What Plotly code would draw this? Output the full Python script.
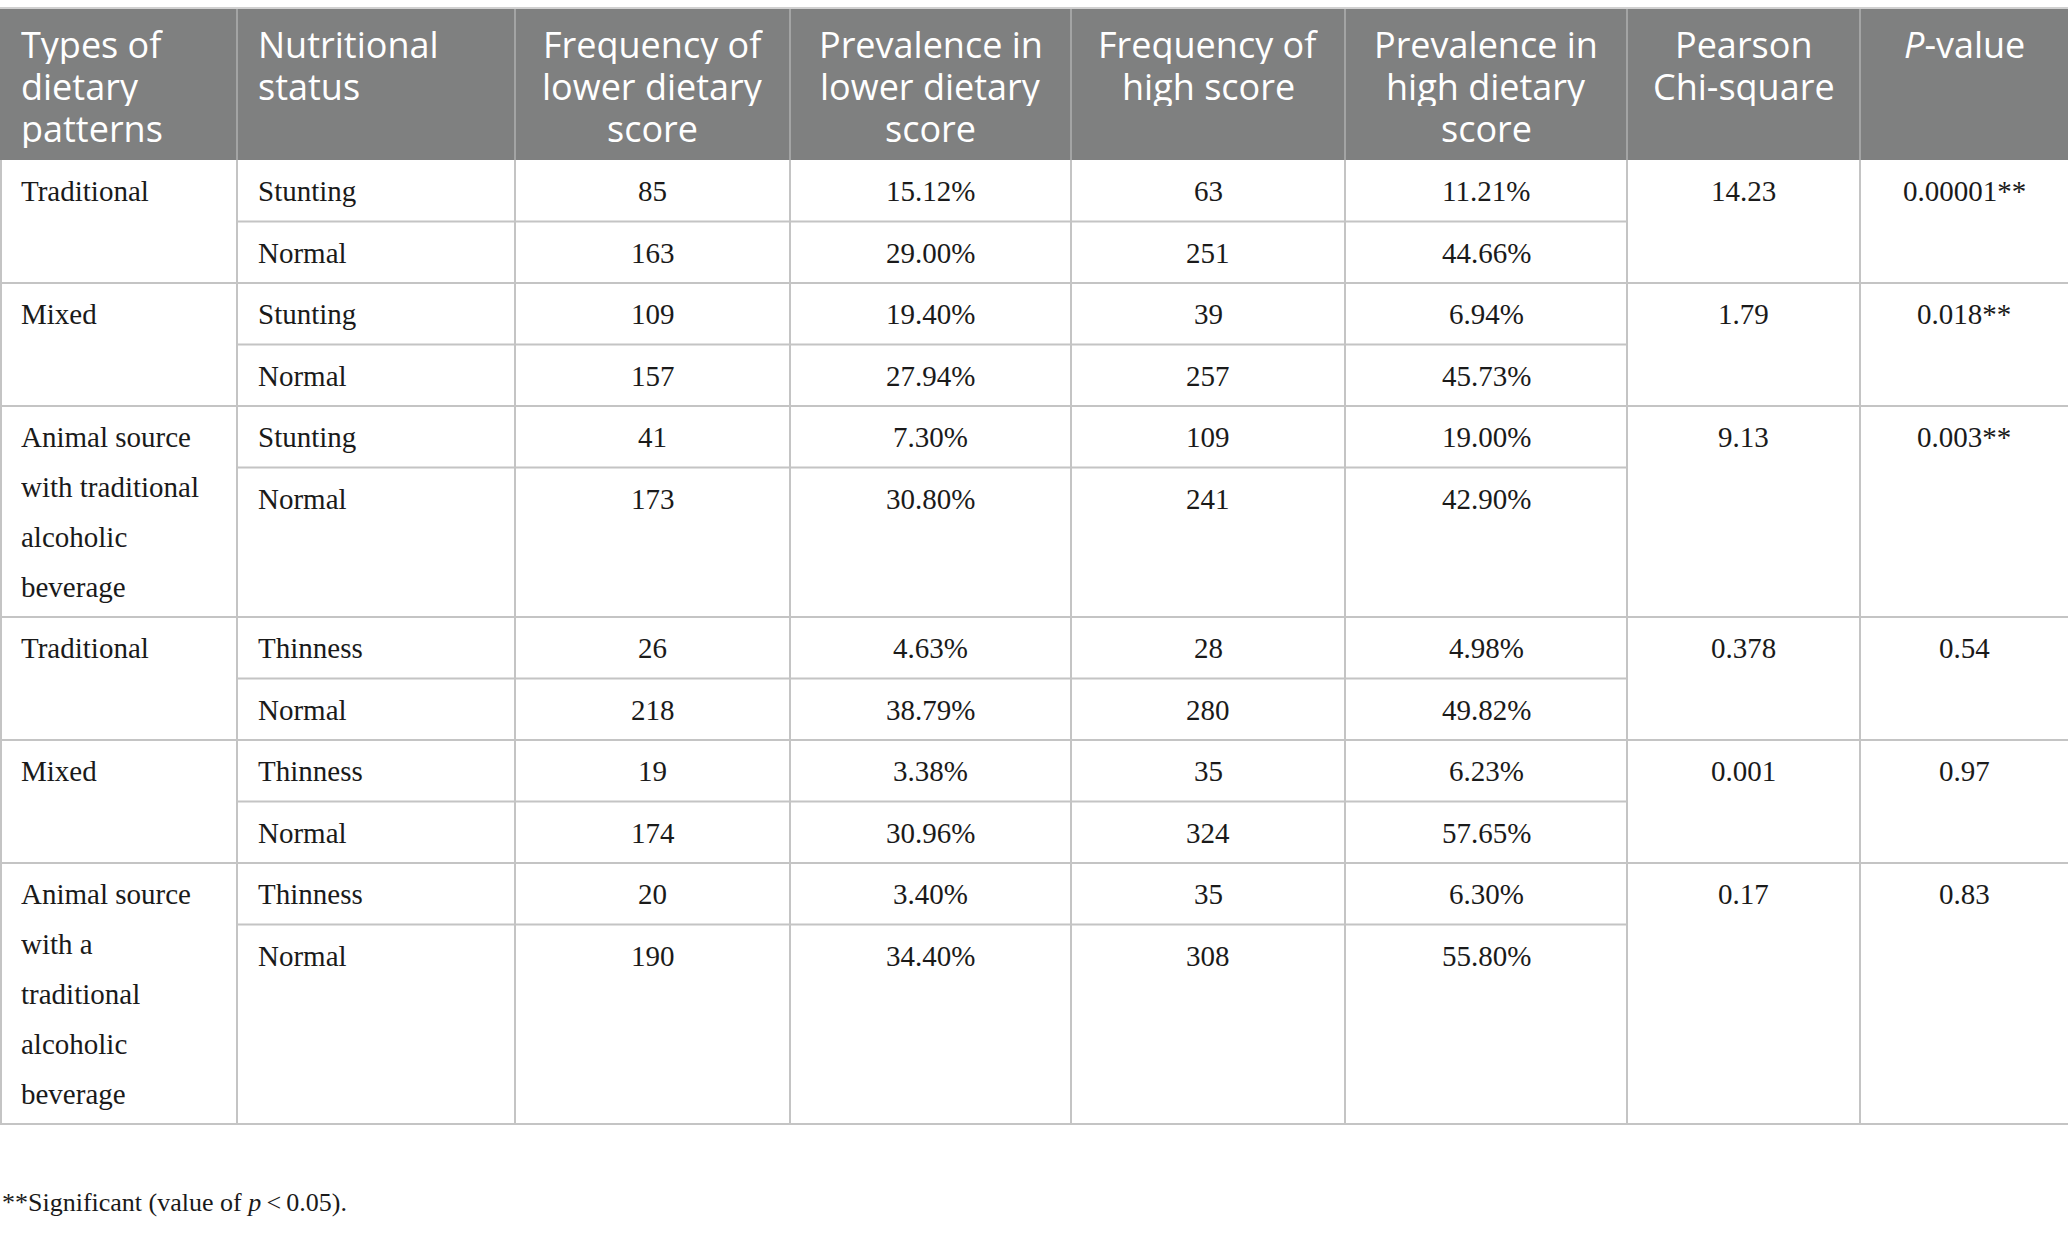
import plotly.graph_objects as go

# table contents
patterns = [
    ["Traditional"],
    ["Mixed"],
    ["Animal source", "with traditional", "alcoholic", "beverage"],
    ["Traditional"],
    ["Mixed"],
    ["Animal source", "with a", "traditional", "alcoholic", "beverage"],
]
status = [["Stunting", "Normal"]] * 3 + [["Thinness", "Normal"]] * 3
freq_low = [85, 163, 109, 157, 41, 173, 26, 218, 19, 174, 20, 190]
prev_low = ["15.12%", "29.00%", "19.40%", "27.94%", "7.30%", "30.80%",
            "4.63%", "38.79%", "3.38%", "30.96%", "3.40%", "34.40%"]
freq_high = [63, 251, 39, 257, 109, 241, 28, 280, 35, 324, 35, 308]
prev_high = ["11.21%", "44.66%", "6.94%", "45.73%", "19.00%", "42.90%",
             "4.98%", "49.82%", "6.23%", "57.65%", "6.30%", "55.80%"]
chi_square = ["14.23", "1.79", "9.13", "0.378", "0.001", "0.17"]
p_values = ["0.00001**", "0.018**", "0.003**", "0.54", "0.97", "0.83"]

headers = [
    ["Types of", "dietary", "patterns"],
    ["Nutritional", "status"],
    ["Frequency of", "lower dietary", "score"],
    ["Prevalence in", "lower dietary", "score"],
    ["Frequency of", "high score"],
    ["Prevalence in", "high dietary", "score"],
    ["Pearson", "Chi-square"],
    ["<i>P</i>-value"],
]
footnote = "**Significant (value of <i>p</i>\u2009<\u20090.05)."

W, H = 2068, 1233
col_edges = [0, 237, 515, 790, 1071, 1345, 1627, 1860, 2068]
header_top, header_bot = 9, 160
row_h = 61.5
line_h = 50
pad = 19

header_bg = "#7f8080"
grid = "#c4c4c4"
serif = "Liberation Serif"
sans = "Open Sans"

fig = go.Figure()
shapes = []
ann = []

def text(x, y, s, anchor="center", size=29, color="#1a1a1a", family=serif, h=None):
    a = dict(x=x, y=y, text=s, showarrow=False, xanchor=anchor, yanchor="middle",
             font=dict(family=family, size=size, color=color))
    if h:
        a["height"] = h
    ann.append(a)

def line(x0, y0, x1, y1, color=grid):
    shapes.append(dict(type="line", x0=x0, y0=y0, x1=x1, y1=y1,
                       line=dict(color=color, width=2)))

# header
shapes.append(dict(type="rect", x0=0, x1=W, y0=header_top, y1=header_bot,
                   fillcolor=header_bg, line=dict(width=0), layer="below"))
line(0, header_top - 1, W, header_top - 1, "#d0d0d0")
for e in col_edges[1:-1]:
    line(e, header_top, e, header_bot, "#a3a4a4")
for c, lines in enumerate(headers):
    left, right = col_edges[c], col_edges[c + 1]
    for i, s in enumerate(lines):
        y = 44 + 42 * i
        if c < 2:
            text(left + pad, y, s, "left", 36, "white", sans, 40)
        else:
            text((left + right) / 2, y, s, "center", 36, "white", sans, 40)

# body
top = header_bot
for g in range(len(patterns)):
    n = len(patterns[g])
    group_h = max(2 * row_h, line_h * n + 11)
    split = top + row_h
    bottom = top + group_h
    # pattern name (merged over two rows)
    for i, s in enumerate(patterns[g]):
        text(col_edges[0] + pad, top + 31 + line_h * i, s, "left", h=46)
    # two sub-rows
    for k, y0 in enumerate([top, split]):
        r = 2 * g + k
        y = y0 + 31
        text(col_edges[1] + pad, y, status[g][k], "left")
        for c, v in zip(range(2, 6), [freq_low[r], prev_low[r], freq_high[r], prev_high[r]]):
            text((col_edges[c] + col_edges[c + 1]) / 2, y, str(v))
    text((col_edges[6] + col_edges[7]) / 2, top + 31, chi_square[g])
    text((col_edges[7] + col_edges[8]) / 2, top + 31, p_values[g])
    line(col_edges[1], split, col_edges[6], split)
    line(0, bottom, W, bottom)
    top = bottom

table_bottom = top
for e in col_edges[:-1]:
    x = max(e, 1)
    line(x, header_bot, x, table_bottom)

text(0, 1202, footnote, "left", 26)

fig.update_layout(
    width=W, height=H,
    margin=dict(l=0, r=0, t=0, b=0),
    paper_bgcolor="white", plot_bgcolor="white",
    xaxis=dict(range=[0, W], visible=False, fixedrange=True),
    yaxis=dict(range=[H, 0], visible=False, fixedrange=True),
    shapes=shapes, annotations=ann, showlegend=False,
)

fig.write_html("out.html", config={"displayModeBar": False},
               post_script="document.body.style.margin='0';")
